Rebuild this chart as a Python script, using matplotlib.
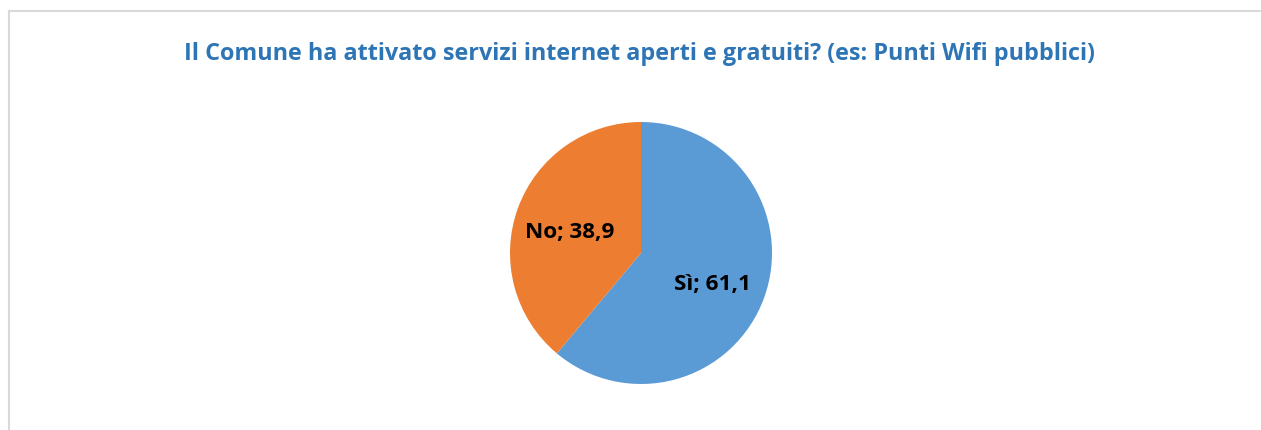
import matplotlib.pyplot as plt
from matplotlib.lines import Line2D
import numpy as np

# Data
labels = ['Sì', 'No']
values = [61.1, 38.9]
colors = ['#5B9BD5', '#ED7D31']
title = 'Il Comune ha attivato servizi internet aperti e gratuiti? (es: Punti Wifi pubblici)'

W, H = 1261, 430
fig = plt.figure(figsize=(W / 100, H / 100), dpi=100)

# chart frame (light gray, runs off the right and bottom edges)
fig.add_artist(Line2D([9 / W, 1], [1 - 11 / H, 1 - 11 / H], transform=fig.transFigure,
                      color='#d9d9d9', lw=1.5))
fig.add_artist(Line2D([9 / W, 9 / W], [0, 1 - 11 / H], transform=fig.transFigure,
                      color='#d9d9d9', lw=1.5))

fig.text(640 / W, 1 - 54 / H, title, ha='center', va='center', fontsize=16.8,
         fontweight='bold', color='#2E75B6', family='Open Sans')

# pie axes: center (641, 253), radius 131 px
cx, cy, r = 641, 253, 131
ax = fig.add_axes([(cx - r) / W, (H - cy - r) / H, 2 * r / W, 2 * r / H])
wedges, _ = ax.pie(values, colors=colors, startangle=90, counterclock=False,
                   wedgeprops=dict(linewidth=0))
ax.set_xlim(-1, 1)
ax.set_ylim(-1, 1)
ax.set_aspect('equal')
ax.axis('off')

for w, lab, v in zip(wedges, labels, values):
    ang = np.deg2rad((w.theta1 + w.theta2) / 2)
    d = 0.58
    ax.text(d * np.cos(ang), d * np.sin(ang) - 0.045, f'{lab}; {v:.1f}'.replace('.', ','),
            ha='center', va='center', fontsize=16.2, fontweight='bold', color='black',
            family='Open Sans')

fig.savefig('out.png', dpi=100)
